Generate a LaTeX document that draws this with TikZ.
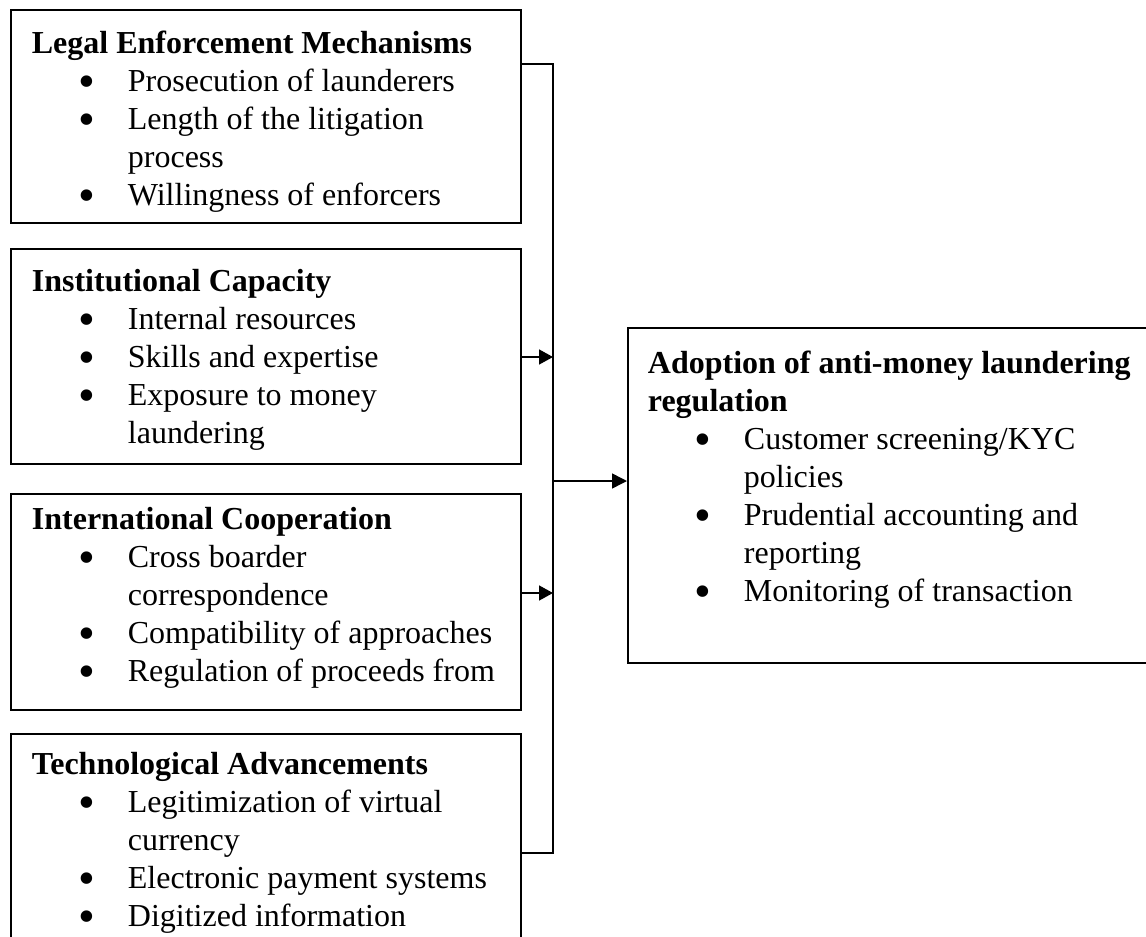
\documentclass[tikz,border=0pt]{standalone}
\usepackage{fontspec}
\setmainfont{Liberation Serif}
\usetikzlibrary{arrows.meta,calc}

% bullet marker and hanging indent for continued lines
\newcommand{\bpt}{\makebox[96pt][l]{\hspace{46.6pt}\smash{\raisebox{-6pt}{\scalebox{1.5}{\textbullet}}}}}
\newcommand{\cpt}{\hspace*{96pt}}
\newcommand{\firstline}{\rule{0pt}{30pt}}

\tikzset{
  frame/.style={draw=black, line width=1.5pt, rectangle, inner sep=0pt,
    anchor=north west},
  content/.style={anchor=north west, inner sep=0pt, align=left,
    font=\fontsize{32}{38}\selectfont},
  link/.style={draw=black, line width=1.5pt},
  feed/.style={link, -{Triangle[length=14pt, width=15pt]}},
}

\begin{document}
\begin{tikzpicture}[x=1pt, y=1pt]
  \useasboundingbox (0,0) rectangle (1146,-937);

  % factor boxes
  \node[frame, minimum width=510pt, minimum height=213pt] (b1) at (10,-9) {};
  \node[frame, minimum width=510pt, minimum height=215pt] (b2) at (10,-248) {};
  \node[frame, minimum width=510pt, minimum height=216pt] (b3) at (10,-493) {};
  \node[frame, minimum width=510pt, minimum height=240pt] (b4) at (10,-733) {};

  % outcome box
  \node[frame, minimum width=540pt, minimum height=335pt] (r) at (627,-327) {};

  \node[content] (t1) at (31.7,-23.6) {\firstline\textbf{Legal Enforcement Mechanisms}\\
    \bpt Prosecution of launderers\\
    \bpt Length of the litigation\\
    \cpt process\\
    \bpt Willingness of enforcers};

  \node[content] (t2) at (31.7,-261) {\firstline\textbf{Institutional Capacity}\\
    \bpt Internal resources\\
    \bpt Skills and expertise\\
    \bpt Exposure to money\\
    \cpt laundering};

  \node[content] (t3) at (31.7,-499) {\firstline\textbf{International Cooperation}\\
    \bpt Cross boarder\\
    \cpt correspondence\\
    \bpt Compatibility of approaches\\
    \bpt Regulation of proceeds from};

  \node[content] (t4) at (31.7,-744) {\firstline\textbf{Technological Advancements}\\
    \bpt Legitimization of virtual\\
    \cpt currency\\
    \bpt Electronic payment systems\\
    \bpt Digitized information};

  \node[content] (tr) at (647.7,-343) {\firstline\textbf{Adoption of anti-money laundering}\\
    \textbf{regulation}\\
    \bpt Customer screening/KYC\\
    \cpt policies\\
    \bpt Prudential accounting and\\
    \cpt reporting\\
    \bpt Monitoring of transaction};

  % collecting bus
  \coordinate (busTop) at (553,-64);
  \coordinate (busBot) at (553,-853);
  \coordinate (j2) at (553,-357);
  \coordinate (j3) at (553,-593);
  \coordinate (jm) at (553,-481);

  \draw[link] (b1.east |- busTop) -- (busTop) -- (busBot) -- (b4.east |- busBot);
  \draw[feed] (b2.east |- j2) -- (j2);
  \draw[feed] (b3.east |- j3) -- (j3);
  \draw[feed, -{Triangle[length=15pt, width=15pt]}] (jm) -- (r.west |- jm);
\end{tikzpicture}
\end{document}
